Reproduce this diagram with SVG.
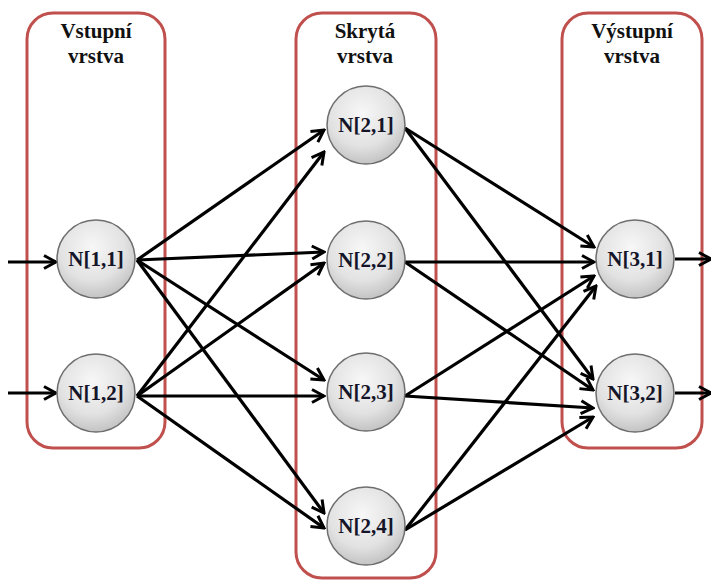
<svg xmlns="http://www.w3.org/2000/svg" width="711" height="581" viewBox="0 0 711 581">
<defs>
<radialGradient id="ng" cx="0.45" cy="0.35" r="0.7">
<stop offset="0" stop-color="#f7f7f7"/>
<stop offset="0.6" stop-color="#e2e2e2"/>
<stop offset="1" stop-color="#bdbdbd"/>
</radialGradient>
<marker id="ah" viewBox="0 0 16 16" markerWidth="16" markerHeight="16" refX="14" refY="8" orient="auto" markerUnits="userSpaceOnUse">
<path d="M2,1.5 L14,8 L2,14.5" fill="none" stroke="#000" stroke-width="3" stroke-linejoin="miter"/>
</marker>
</defs>
<style>
.layer{fill:none;stroke:#c0504d;stroke-width:3}
.title{fill:#111;text-anchor:middle}
.node circle{fill:url(#ng);stroke:#6e6e6e;stroke-width:1.5}
.node text{fill:#15152a;text-anchor:middle}
.edge{stroke:#000;stroke-width:3.2;fill:none;marker-end:url(#ah)}
</style>
<rect width="711" height="581" fill="#fff"/>
<g id="layers">
<rect class="layer" x="27" y="13" width="138" height="435" rx="26"/>
<rect class="layer" x="296" y="13" width="140" height="565" rx="26"/>
<rect class="layer" x="562" y="13" width="140" height="435" rx="26"/>
<g font-family="'Liberation Serif', serif" font-size="21" font-weight="bold">
<text class="title" x="96" y="38">Vstupní</text>
<text class="title" x="96" y="63">vrstva</text>
<text class="title" x="365" y="38">Skrytá</text>
<text class="title" x="365" y="63">vrstva</text>
<text class="title" x="632" y="38">Výstupní</text>
<text class="title" x="632" y="63">vrstva</text>
</g>
</g>
<g id="connectors">
<line class="edge" x1="8" y1="262" x2="56" y2="262"/>
<line class="edge" x1="8" y1="393" x2="56" y2="393"/>
<line class="edge" x1="137" y1="260" x2="324" y2="130"/>
<line class="edge" x1="137" y1="260" x2="324" y2="252"/>
<line class="edge" x1="137" y1="260" x2="324" y2="380"/>
<line class="edge" x1="137" y1="260" x2="324" y2="513"/>
<line class="edge" x1="137" y1="396" x2="324" y2="152"/>
<line class="edge" x1="137" y1="396" x2="324" y2="263"/>
<line class="edge" x1="137" y1="396" x2="324" y2="396"/>
<line class="edge" x1="137" y1="396" x2="324" y2="528"/>
<line class="edge" x1="405" y1="128" x2="594" y2="247"/>
<line class="edge" x1="405" y1="128" x2="593" y2="379"/>
<line class="edge" x1="405" y1="262" x2="594" y2="262"/>
<line class="edge" x1="405" y1="262" x2="593" y2="390"/>
<line class="edge" x1="405" y1="396" x2="594" y2="276"/>
<line class="edge" x1="405" y1="396" x2="593" y2="408"/>
<line class="edge" x1="405" y1="530" x2="596" y2="286"/>
<line class="edge" x1="405" y1="530" x2="593" y2="417"/>
<line class="edge" x1="675" y1="259" x2="711" y2="259"/>
<line class="edge" x1="675" y1="393" x2="711" y2="393"/>
</g>
<g font-family="'Liberation Serif', serif" font-size="21" font-weight="bold">
<g id="n11" class="node"><circle cx="96" cy="259" r="39"/><text x="96" y="266">N[1,1]</text></g>
<g id="n12" class="node"><circle cx="96" cy="393" r="39"/><text x="96" y="400">N[1,2]</text></g>
<g id="n21" class="node"><circle cx="366" cy="125" r="39"/><text x="366" y="132">N[2,1]</text></g>
<g id="n22" class="node"><circle cx="366" cy="260" r="39"/><text x="366" y="267">N[2,2]</text></g>
<g id="n23" class="node"><circle cx="366" cy="392" r="39"/><text x="366" y="399">N[2,3]</text></g>
<g id="n24" class="node"><circle cx="366" cy="526" r="39"/><text x="366" y="533">N[2,4]</text></g>
<g id="n31" class="node"><circle cx="635" cy="259" r="39"/><text x="635" y="266">N[3,1]</text></g>
<g id="n32" class="node"><circle cx="635" cy="393" r="39"/><text x="635" y="400">N[3,2]</text></g>
</g>
</svg>
